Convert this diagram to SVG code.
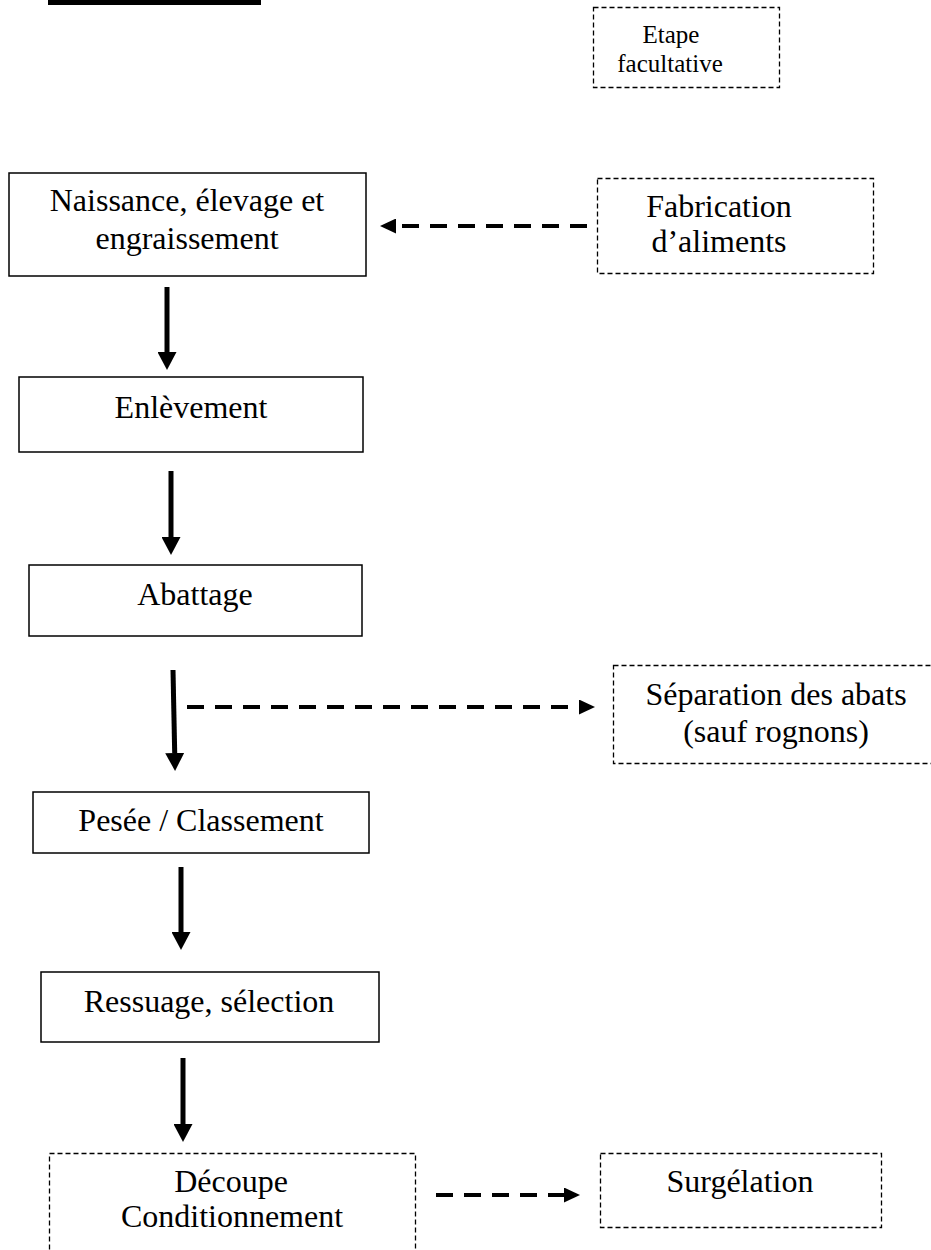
<svg xmlns="http://www.w3.org/2000/svg" width="931" height="1250" viewBox="0 0 931 1250">
<style>
  .box { fill: #ffffff; stroke: #000000; stroke-width: 1.5; }
  .opt { fill: #ffffff; stroke: #000000; stroke-width: 1.3; stroke-dasharray: 5 3; }
  .lbl { font-family: "Liberation Serif", "Times New Roman", serif; font-size: 32px; fill: #000000; text-anchor: middle; }
  .small { font-size: 25px; }
  .solid { stroke: #000000; stroke-width: 5; fill: none; }
  .dash { stroke: #000000; stroke-width: 4; fill: none; stroke-dasharray: 17 11; }
</style>
<defs>
  <marker id="headSolid" markerUnits="userSpaceOnUse" markerWidth="19" markerHeight="19" refX="0" refY="9.5" orient="auto">
    <path d="M0,0 L18,9.5 L0,19 z" fill="#000000"/>
  </marker>
  <marker id="headDash" markerUnits="userSpaceOnUse" markerWidth="16" markerHeight="15" refX="0" refY="7.5" orient="auto">
    <path d="M0,0 L16,7.5 L0,15 z" fill="#000000"/>
  </marker>
</defs>
<rect width="931" height="1250" fill="#ffffff"/>
<rect x="48" y="0" width="213" height="5" fill="#000000"/>

<g id="connectors">
  <line class="solid" x1="167" y1="287" x2="167" y2="352" marker-end="url(#headSolid)"/>
  <line class="solid" x1="171" y1="471" x2="171" y2="537" marker-end="url(#headSolid)"/>
  <line class="solid" x1="173" y1="670" x2="174.7" y2="753" marker-end="url(#headSolid)"/>
  <line class="solid" x1="181" y1="867" x2="181" y2="932" marker-end="url(#headSolid)"/>
  <line class="solid" x1="183" y1="1058" x2="183" y2="1124" marker-end="url(#headSolid)"/>
  <line class="dash" x1="587" y1="226" x2="396" y2="226" marker-end="url(#headDash)"/>
  <line class="dash" x1="187" y1="707" x2="579" y2="707" marker-end="url(#headDash)"/>
  <line class="dash" x1="436" y1="1195" x2="564" y2="1195" marker-end="url(#headDash)"/>
</g>

<g id="legend">
  <rect class="opt" x="593.5" y="7.5" width="186" height="80"/>
  <text class="lbl small" x="671" y="43">Etape</text>
  <text class="lbl small" x="670" y="72">facultative</text>
</g>

<g id="naissance">
  <rect class="box" x="9" y="173" width="357" height="103"/>
  <text class="lbl" x="187" y="211">Naissance, élevage et</text>
  <text class="lbl" x="187" y="249">engraissement</text>
</g>

<g id="fabrication">
  <rect class="opt" x="597.5" y="178.5" width="276" height="95"/>
  <text class="lbl" x="719" y="217">Fabrication</text>
  <text class="lbl" x="719" y="252">d’aliments</text>
</g>

<g id="enlevement">
  <rect class="box" x="19" y="377" width="344" height="75"/>
  <text class="lbl" x="191" y="418">Enlèvement</text>
</g>

<g id="abattage">
  <rect class="box" x="29" y="565" width="333" height="71"/>
  <text class="lbl" x="195" y="605">Abattage</text>
</g>

<g id="separation">
  <rect class="opt" x="613.5" y="665.5" width="332" height="98"/>
  <text class="lbl" x="776" y="705">Séparation des abats</text>
  <text class="lbl" x="776" y="742">(sauf rognons)</text>
</g>

<g id="pesee">
  <rect class="box" x="33" y="792" width="336" height="61"/>
  <text class="lbl" x="201" y="831">Pesée / Classement</text>
</g>

<g id="ressuage">
  <rect class="box" x="41" y="972" width="338" height="70"/>
  <text class="lbl" x="209" y="1012">Ressuage, sélection</text>
</g>

<g id="decoupe">
  <rect class="opt" x="49.5" y="1153.5" width="366" height="110"/>
  <text class="lbl" x="231" y="1192">Découpe</text>
  <text class="lbl" x="232" y="1227">Conditionnement</text>
</g>

<g id="surgelation">
  <rect class="opt" x="600.5" y="1153.5" width="281" height="74"/>
  <text class="lbl" x="740" y="1192">Surgélation</text>
</g>
</svg>
